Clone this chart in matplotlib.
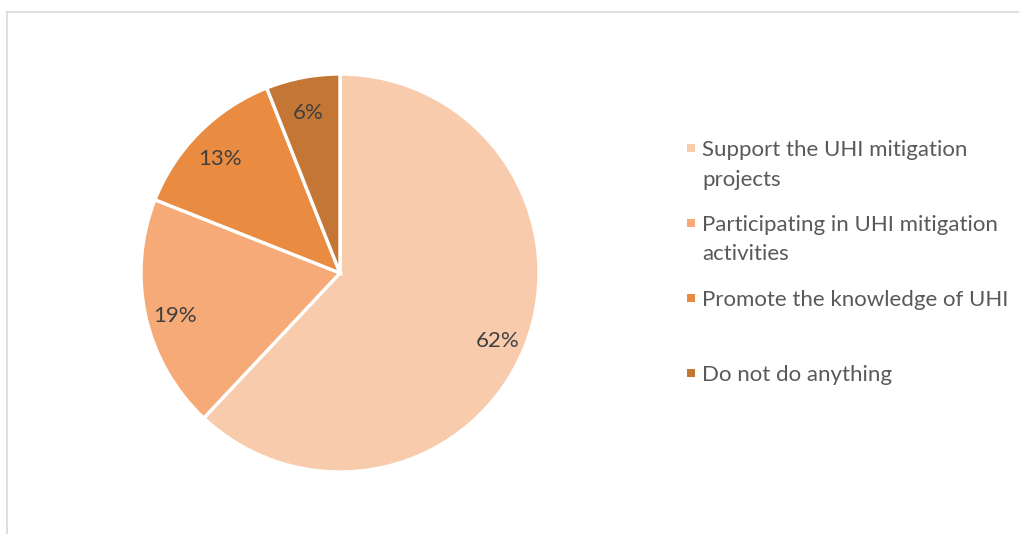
import textwrap
import matplotlib
matplotlib.use("Agg")
import matplotlib.pyplot as plt
from matplotlib.lines import Line2D
from matplotlib.patches import Rectangle

labels = ["Support the UHI mitigation projects",
          "Participating in UHI mitigation activities",
          "Promote the knowledge of UHI",
          "Do not do anything"]
shares = [62, 19, 13, 6]
colors = ["#F8CBAD", "#F6AA77", "#E98C42", "#C47634"]

plt.rcParams["font.family"] = ["Lato", "DejaVu Sans"]

W, H = 1020, 534
fig = plt.figure(figsize=(W / 100, H / 100), dpi=100)

# pie centred at (340, 273) px, radius 199 px
cx, cy, r = 340, 273, 199
ax = fig.add_axes([(cx - r) / W, (H - cy - r) / H, 2 * r / W, 2 * r / H])
wedges, texts, pcts = ax.pie(
    shares, colors=colors, startangle=90, counterclock=False,
    autopct=lambda p: f"{p:.0f}%", pctdistance=0.85,
    wedgeprops=dict(edgecolor="white", linewidth=2.4),
    textprops=dict(color="#404040", fontsize=16))
# nudge the percentage labels a little below their wedge midline
for t in pcts:
    x, y = t.get_position()
    t.set_position((x, y - 0.03))
ax.set_xlim(-1, 1)
ax.set_ylim(-1, 1)
ax.set_aspect("equal")

# chart-area border (top and left edges visible)
fig.add_artist(Line2D([7.5 / W, 1.0], [1 - 11.5 / H] * 2, color="#D9D9D9", lw=1.2))
fig.add_artist(Line2D([7.5 / W] * 2, [1 - 11.5 / H, 0.0], color="#D9D9D9", lw=1.2))

# legend drawn by hand so each entry keeps its own slot
legend_y = [148, 223, 298, 373]
line_gap = 29.5
for lab, col, y in zip(labels, colors, legend_y):
    fig.add_artist(Rectangle((687 / W, 1 - (y + 4) / H), 8 / W, 8 / H,
                             facecolor=col, edgecolor="none"))
    for k, line in enumerate(textwrap.wrap(lab, 31)):
        fig.text(702 / W, 1 - (y + 8 + k * line_gap) / H, line,
                 fontsize=16, color="#595959", va="baseline", ha="left")

fig.savefig("out.png", dpi=100)
